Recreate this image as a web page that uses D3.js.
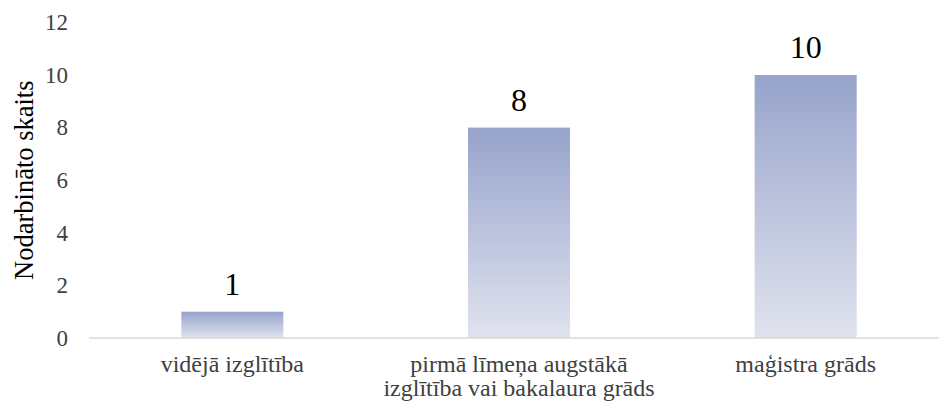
<!DOCTYPE html>
<html>
  <head>
    <meta charset="utf-8" />
    <title>Nodarbināto skaits</title>
    <style>
      body { margin: 0; background: #fff; }
    </style>
  </head>
  <body>
    <div id="chart"></div>
    <script src="https://d3js.org/d3.v7.min.js"></script>
    <script>
      // chart data
      const categories = [
        ["vidējā izglītība"],
        ["pirmā līmeņa augstākā", "izglītība vai bakalaura grāds"],
        ["maģistra grāds"]
      ];
      const values = [1, 8, 10];
      const yTicks = [0, 2, 4, 6, 8, 10, 12];
      const yTitle = "Nodarbināto skaits";

      const serif = "Liberation Serif";
      const width = 939, height = 403;
      const plotLeft = 89, plotRight = 949, plotTop = 22.4, plotBottom = 338;

      const svg = d3.select("#chart").append("svg")
        .attr("width", width)
        .attr("height", height)
        .attr("font-family", serif);

      const grad = svg.append("defs").append("linearGradient")
        .attr("id", "barGrad")
        .attr("x1", 0).attr("y1", 0).attr("x2", 0).attr("y2", 1);
      grad.append("stop").attr("offset", "0%").attr("stop-color", "#97a3cc");
      grad.append("stop").attr("offset", "100%").attr("stop-color", "#e0e3ee");

      const x = d3.scaleBand()
        .domain(d3.range(values.length))
        .range([plotLeft, plotRight])
        .paddingInner(0.644)
        .paddingOuter(0.322);

      const y = d3.scaleLinear()
        .domain([0, 12])
        .range([plotBottom, plotTop]);

      // y axis labels only (no line)
      const yAxis = svg.append("g")
        .attr("transform", `translate(${plotLeft},0)`)
        .call(d3.axisLeft(y).tickValues(yTicks).tickSize(0).tickPadding(21));
      yAxis.attr("font-family", serif).attr("font-size", 23);
      yAxis.select(".domain").remove();
      yAxis.selectAll("text").attr("fill", "#404040");

      // bars
      svg.selectAll("rect.bar")
        .data(values)
        .enter()
        .append("rect")
        .attr("class", "bar")
        .attr("x", (d, i) => x(i))
        .attr("y", d => y(d))
        .attr("width", x.bandwidth())
        .attr("height", d => y(0) - y(d))
        .attr("fill", "url(#barGrad)");

      // baseline
      svg.append("line")
        .attr("x1", plotLeft).attr("x2", plotRight)
        .attr("y1", y(0)).attr("y2", y(0))
        .attr("stroke", "#d9d9d9")
        .attr("stroke-width", 1.3);

      // value labels
      svg.selectAll("text.val")
        .data(values)
        .enter()
        .append("text")
        .attr("class", "val")
        .attr("x", (d, i) => x(i) + x.bandwidth() / 2)
        .attr("y", d => y(d) - 17)
        .attr("text-anchor", "middle")
        .attr("fill", "#000")
        .attr("font-size", 32)
        .text(d => d);

      // category labels
      const cat = svg.selectAll("text.cat")
        .data(categories)
        .enter()
        .append("text")
        .attr("class", "cat")
        .attr("text-anchor", "middle")
        .attr("fill", "#404040")
        .attr("font-size", 24);
      cat.selectAll("tspan")
        .data((d, i) => d.map(line => ({ line, i })))
        .enter()
        .append("tspan")
        .attr("x", d => x(d.i) + x.bandwidth() / 2)
        .attr("y", (d, j) => 372 + j * 23.5)
        .text(d => d.line);

      // y axis title
      svg.append("text")
        .attr("transform", `translate(32.5,${(plotTop + plotBottom) / 2}) rotate(-90)`)
        .attr("text-anchor", "middle")
        .attr("fill", "#000")
        .attr("font-size", 26.5)
        .text(yTitle);
    </script>
  </body>
</html>
